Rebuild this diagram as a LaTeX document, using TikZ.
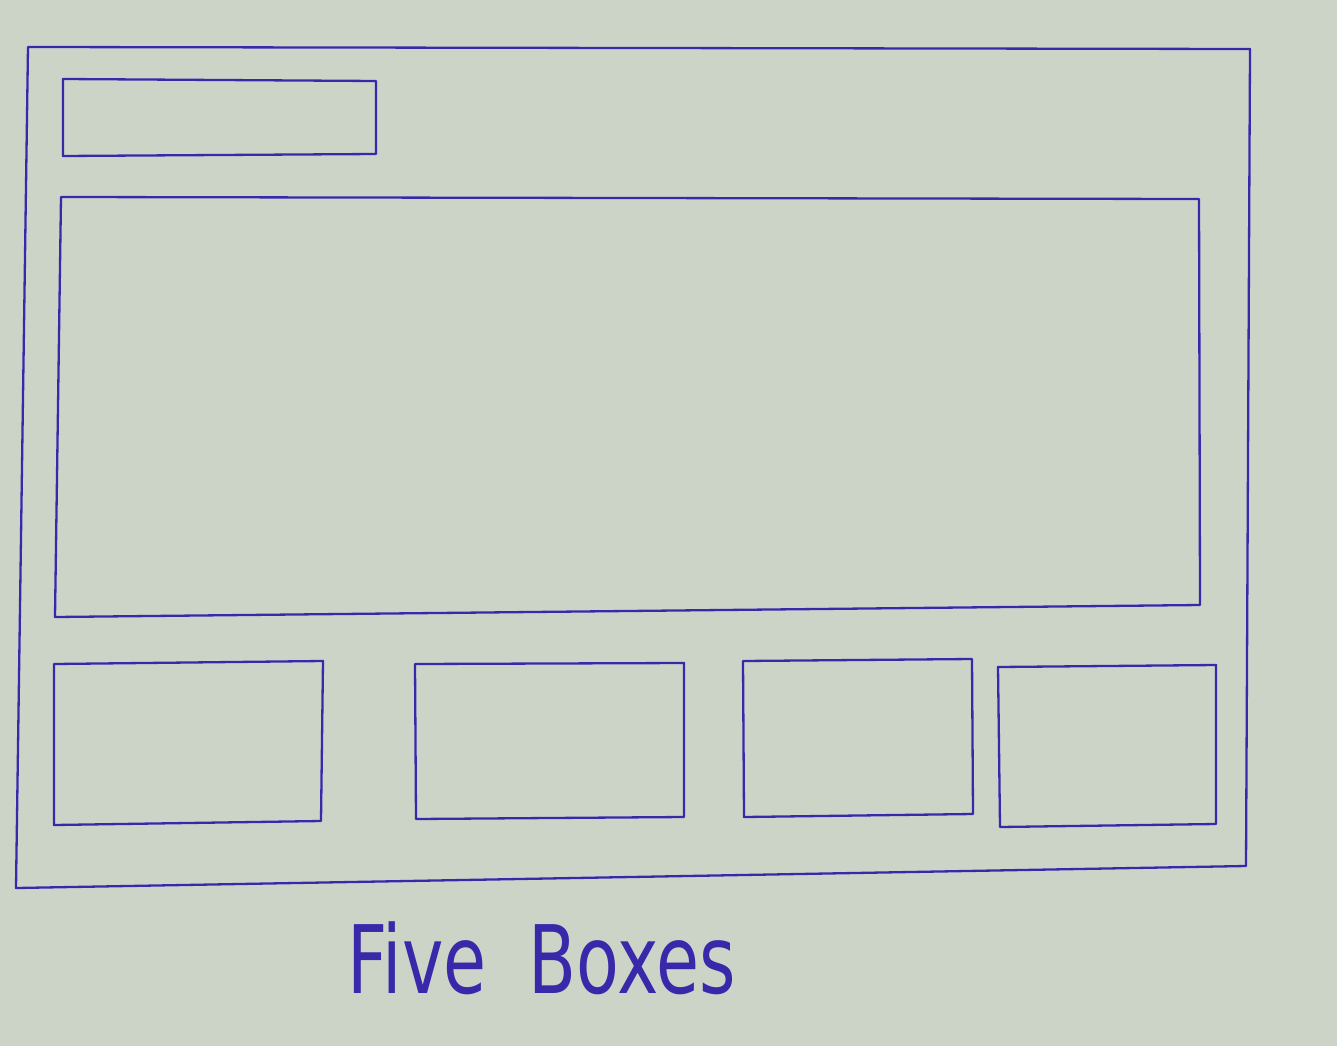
\documentclass[tikz,border=0pt]{standalone}
\usepackage{fontspec}
\setmainfont{DejaVu Sans}
\definecolor{paper}{RGB}{204,212,200}
\definecolor{ink}{RGB}{58,40,170}
\begin{document}
\begin{tikzpicture}[x=1pt,y=-1pt,
  ink line/.style={draw=ink,line width=2.3pt,line join=round,line cap=round},
  title/.style={text=ink,font=\fontsize{70}{80}\selectfont,yscale=1.35}]
\fill[paper] (0,0) rectangle (1337,1046);
\useasboundingbox (0,0) rectangle (1337,1046);
% outer frame
\coordinate (o1) at (28,47); \coordinate (o2) at (1250,49);
\coordinate (o3) at (1246,866); \coordinate (o4) at (16,888);
\draw[ink line] (o1) -- (o2) -- (o3) -- (o4) -- cycle;
% small top box
\coordinate (s1) at (63,79); \coordinate (s2) at (376,81);
\coordinate (s3) at (376,154); \coordinate (s4) at (63,156);
\draw[ink line] (s1) -- (s2) -- (s3) -- (s4) -- cycle;
% big box
\coordinate (b1) at (61,197); \coordinate (b2) at (1199,199);
\coordinate (b3) at (1200,605); \coordinate (b4) at (55,617);
\draw[ink line] (b1) -- (b2) -- (b3) -- (b4) -- cycle;
% bottom boxes
\coordinate (p1) at (54,664); \coordinate (p2) at (323,661);
\coordinate (p3) at (321,821); \coordinate (p4) at (54,825);
\draw[ink line] (p1) -- (p2) -- (p3) -- (p4) -- cycle;
\coordinate (q1) at (415,664); \coordinate (q2) at (684,663);
\coordinate (q3) at (684,817); \coordinate (q4) at (416,819);
\draw[ink line] (q1) -- (q2) -- (q3) -- (q4) -- cycle;
\coordinate (r1) at (743,661); \coordinate (r2) at (972,659);
\coordinate (r3) at (973,814); \coordinate (r4) at (744,817);
\draw[ink line] (r1) -- (r2) -- (r3) -- (r4) -- cycle;
\coordinate (t1) at (998,667); \coordinate (t2) at (1216,665);
\coordinate (t3) at (1216,824); \coordinate (t4) at (1000,827);
\draw[ink line] (t1) -- (t2) -- (t3) -- (t4) -- cycle;
% caption
\node[title,transform shape] (cap) at (542,958) {Five\hspace{0.6em}Boxes};
\end{tikzpicture}
\end{document}
